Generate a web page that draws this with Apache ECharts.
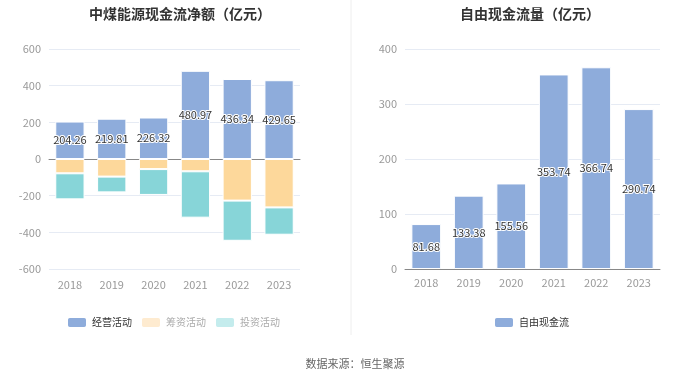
<!DOCTYPE html>
<html lang="zh">
<head>
<meta charset="UTF-8">
<title>中煤能源现金流</title>
<style>html,body{margin:0;padding:0;background:#fff;}</style>
</head>
<body>
<div id="card" style="width:700px;height:377px;"></div>
<script src="https://cdn.jsdelivr.net/npm/echarts@6/dist/echarts.min.js"></script>
<script>
var years = ['2018', '2019', '2020', '2021', '2022', '2023'];
var operating = [204.26, 219.81, 226.32, 480.97, 436.34, 429.65];
var financing = [-78, -96, -55, -67, -227, -264];
var investing = [-142, -86, -141, -253, -219, -149];
var freeCash = [81.68, 133.38, 155.56, 353.74, 366.74, 290.74];
var leftTicks = { min: -600, max: 600, interval: 200 };
var rightTicks = { min: 0, max: 400, interval: 100 };

var font = '"Noto Sans CJK SC", sans-serif';
var barLabel = {
    show: true,
    position: 'inside',
    color: '#333',
    fontSize: 11,
    fontFamily: font,
    textBorderColor: '#fff',
    textBorderWidth: 2
};
var axisLabel = { color: '#999', fontSize: 11, fontFamily: font };
var splitLine = { lineStyle: { color: '#e6ebf4' } };

var option = {
    backgroundColor: '#fff',
    animation: false,
    title: [{
        text: '中煤能源现金流净额（亿元）',
        left: 175, top: 2, textAlign: 'center',
        textStyle: { fontSize: 14, fontWeight: 'bold', color: '#333', fontFamily: font }
    }, {
        text: '自由现金流量（亿元）',
        left: 525, top: 2, textAlign: 'center',
        textStyle: { fontSize: 14, fontWeight: 'bold', color: '#333', fontFamily: font }
    }, {
        text: '数据来源：恒生聚源',
        left: 350, top: 353, textAlign: 'center',
        textStyle: { fontSize: 11, fontWeight: 'normal', color: '#666', fontFamily: font }
    }],
    legend: [{
        left: 61, top: 311,
        itemWidth: 20, itemHeight: 11, itemGap: 8,
        textStyle: { fontSize: 10, color: '#333', fontFamily: font },
        data: [
            { name: '经营活动' },
            { name: '筹资活动', itemStyle: { color: '#feebd0' }, textStyle: { color: '#aaa' } },
            { name: '投资活动', itemStyle: { color: '#c4eced' }, textStyle: { color: '#aaa' } }
        ]
    }, {
        top: 311, left: 488,
        itemWidth: 20, itemHeight: 11,
        textStyle: { fontSize: 10, color: '#333', fontFamily: font },
        data: ['自由现金流']
    }],
    grid: [
        { left: 49, right: 400, top: 49, bottom: 108 },
        { left: 405, right: 40, top: 49, bottom: 108 }
    ],
    xAxis: [{
        gridIndex: 0, type: 'category', data: years,
        axisLine: { lineStyle: { color: '#888' } },
        axisTick: { show: false },
        axisLabel: Object.assign({ margin: 10 }, axisLabel)
    }, {
        gridIndex: 1, type: 'category', data: years,
        axisLine: { lineStyle: { color: '#888' } },
        axisTick: { show: false },
        axisLabel: Object.assign({ margin: 8 }, axisLabel)
    }],
    yAxis: [{
        gridIndex: 0, type: 'value',
        min: leftTicks.min, max: leftTicks.max, interval: leftTicks.interval,
        axisLabel: axisLabel, splitLine: splitLine
    }, {
        gridIndex: 1, type: 'value',
        min: rightTicks.min, max: rightTicks.max, interval: rightTicks.interval,
        axisLabel: axisLabel, splitLine: splitLine
    }],
    graphic: [{
        type: 'line',
        shape: { x1: 351, y1: 0, x2: 351, y2: 335 },
        style: { stroke: '#eee', lineWidth: 1 }
    }],
    series: [{
        name: '经营活动', type: 'bar', stack: 'a', barWidth: '70%',
        xAxisIndex: 0, yAxisIndex: 0,
        itemStyle: { color: '#8eacdb', borderColor: '#fff', borderWidth: 1 },
        label: barLabel,
        data: operating
    }, {
        name: '筹资活动', type: 'bar', stack: 'a',
        xAxisIndex: 0, yAxisIndex: 0,
        itemStyle: { color: '#fdd89b', borderColor: '#fff', borderWidth: 1 },
        data: financing
    }, {
        name: '投资活动', type: 'bar', stack: 'a',
        xAxisIndex: 0, yAxisIndex: 0,
        itemStyle: { color: '#87d5d8', borderColor: '#fff', borderWidth: 1 },
        data: investing
    }, {
        name: '自由现金流', type: 'bar', barWidth: '70%',
        xAxisIndex: 1, yAxisIndex: 1,
        itemStyle: { color: '#8eacdb', borderColor: '#fff', borderWidth: 1 },
        label: barLabel,
        data: freeCash
    }]
};

var myChart = echarts.init(document.getElementById('card'));
myChart.setOption(option);
</script>
</body>
</html>
